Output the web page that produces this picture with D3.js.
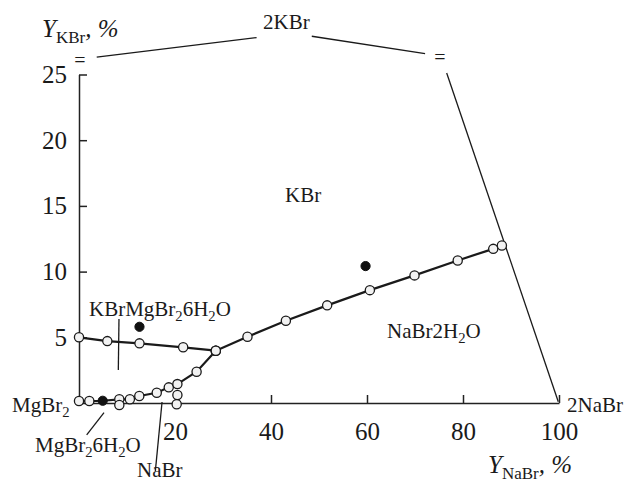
<!DOCTYPE html>
<html><head><meta charset="utf-8">
<script src="https://cdn.jsdelivr.net/npm/d3@7"></script>
<style>
html,body{margin:0;padding:0;background:#fff;}
svg{display:block;}
text{font-family:"Liberation Serif","Times New Roman",serif;fill:#1a1a1a;}
</style></head>
<body>
<svg id="chart" width="624" height="483"></svg>
<script>
// ---- data (Y_NaBr %, Y_KBr %) ----
const xTicks = [20, 40, 60, 80, 100];
const yTicks = [5, 10, 15, 20, 25];

// KBr·MgBr2·6H2O / KBr boundary
const branchKX = [0, 5.9, 12.6, 21.7, 28.5];
const branchKY = [5.0, 4.71, 4.54, 4.24, 3.98];
// KBr / NaBr·2H2O boundary
const branchNX = [28.5, 35.1, 43.1, 51.7, 60.6, 69.9, 78.9, 86.3, 88.1];
const branchNY = [3.98, 5.04, 6.26, 7.43, 8.59, 9.71, 10.85, 11.73, 11.99];
// MgBr2·6H2O / NaBr boundary
const branchMX = [0, 2.15, 4.94, 8.4, 10.6, 12.56, 16.2, 18.7, 20.5, 24.5, 28.5];
const branchMY = [0.15, 0.15, 0.17, 0.28, 0.28, 0.53, 0.78, 1.19, 1.44, 2.38, 3.98];
// separate open points
const extraX = [8.4, 20.5, 20.35];
const extraY = [-0.15, 0.61, -0.1];
// filled points
const filledX = [4.94, 12.6, 59.7];
const filledY = [0.17, 5.80, 10.42];
// frame of the projection (broken)
const frameA = [[3.69, 26.33], [37.0, 27.81]];
const frameB = [[48.5, 27.91], [72.1, 26.59]];
const frameC = [[76.6, 25.12], [99.85, 0.1]];

const svg = d3.select("#chart");
const x = d3.scaleLinear().domain([0, 100]).range([79, 559]);
const y = d3.scaleLinear().domain([0, 25]).range([403, 74.5]);

const line = d3.line().x(d => x(d[0])).y(d => y(d[1]));
const zip = (a, b) => a.map((v, i) => [v, b[i]]);

// axes
const gx = svg.append("g").attr("transform", `translate(0,${y(0)})`)
  .call(d3.axisBottom(x).tickValues(xTicks).tickSize(-8).tickSizeOuter(0).tickPadding(19));
const gy = svg.append("g").attr("transform", `translate(${x(0)},0)`)
  .call(d3.axisLeft(y).tickValues(yTicks).tickSize(-8).tickSizeOuter(0).tickPadding(12));
[gx, gy].forEach(g => {
  g.attr("font-family", "Liberation Serif");
  g.select(".domain").attr("stroke", "#222").attr("stroke-width", 1.5);
  g.selectAll(".tick line").attr("stroke", "#222").attr("stroke-width", 1.5);
  g.selectAll(".tick text").attr("font-family", "Liberation Serif").attr("font-size", 25).attr("fill", "#1a1a1a");
});

// frame lines
[frameA, frameB, frameC].forEach(f => {
  svg.append("path").attr("d", line(f)).attr("fill", "none").attr("stroke", "#1a1a1a").attr("stroke-width", 1.3);
});
// break marks
svg.append("text").attr("x", x(0) + 1).attr("y", y(25) - 8).attr("text-anchor", "middle").attr("font-size", 20).text("=");
svg.append("text").attr("x", x(75.2)).attr("y", y(25) - 11).attr("text-anchor", "middle").attr("font-size", 20).text("=");

// leader lines
const leaders = [
  [[8.33, 6.39], [8.19, 2.51]],
  [[5.21, -0.74], [1.6, -2.43]],
  [[17.3, 0.08], [15.9, -5.2]]
];
leaders.forEach(l => svg.append("path").attr("d", line(l)).attr("fill", "none").attr("stroke", "#1a1a1a").attr("stroke-width", 1.3));

// boundary curves
[zip(branchKX, branchKY), zip(branchNX, branchNY), zip(branchMX, branchMY)].forEach(pts => {
  svg.append("path").attr("d", line(pts)).attr("fill", "none").attr("stroke", "#1a1a1a").attr("stroke-width", 2.2);
});

// open circles
const openPts = [].concat(zip(branchKX, branchKY), zip(branchNX, branchNY), zip(branchMX, branchMY), zip(extraX, extraY))
  .filter(p => !zip(filledX, filledY).some(q => q[0] === p[0] && q[1] === p[1]));
svg.append("g").selectAll("circle").data(openPts).join("circle")
  .attr("cx", d => x(d[0])).attr("cy", d => y(d[1])).attr("r", 4.6)
  .attr("fill", "#f2f2f2").attr("stroke", "#1a1a1a").attr("stroke-width", 1.3);
svg.append("g").selectAll("circle").data(zip(filledX, filledY)).join("circle")
  .attr("cx", d => x(d[0])).attr("cy", d => y(d[1])).attr("r", 4.6)
  .attr("fill", "#111").attr("stroke", "#111").attr("stroke-width", 1);

// labels with subscripts
function label(px, py, parts, size, anchor) {
  const t = svg.append("text").attr("x", px).attr("y", py).attr("font-size", size).attr("text-anchor", anchor || "start");
  let shifted = false;
  parts.forEach(p => {
    const ts = t.append("tspan").text(p.t);
    if (p.sub) { ts.attr("font-size", p.fs || size * 0.7).attr("dy", shifted ? 0 : size * 0.22); shifted = true; }
    else if (shifted) { ts.attr("dy", -size * 0.22); shifted = false; }
    if (p.i) ts.attr("font-style", "italic");
  });
  return t;
}
label(42, 37, [{t: "Y", i: 1}, {t: "KBr", sub: 1, fs: 17}, {t: ", %", i: 1}], 25);
label(488, 473, [{t: "Y", i: 1}, {t: "NaBr", sub: 1, fs: 17}, {t: ", %", i: 1}], 25);
label(263, 29, [{t: "2KBr"}], 21);
label(285, 202, [{t: "KBr"}], 21);
label(387, 338, [{t: "NaBr2H"}, {t: "2", sub: 1}, {t: "O"}], 21);
label(567, 412, [{t: "2NaBr"}], 21);
label(12, 412, [{t: "MgBr"}, {t: "2", sub: 1}], 21);
label(89, 316, [{t: "KBrMgBr"}, {t: "2", sub: 1}, {t: "6H"}, {t: "2", sub: 1}, {t: "O"}], 21);
label(35, 452, [{t: "MgBr"}, {t: "2", sub: 1}, {t: "6H"}, {t: "2", sub: 1}, {t: "O"}], 21);
label(137, 477, [{t: "NaBr"}], 21);
</script>
</body></html>
